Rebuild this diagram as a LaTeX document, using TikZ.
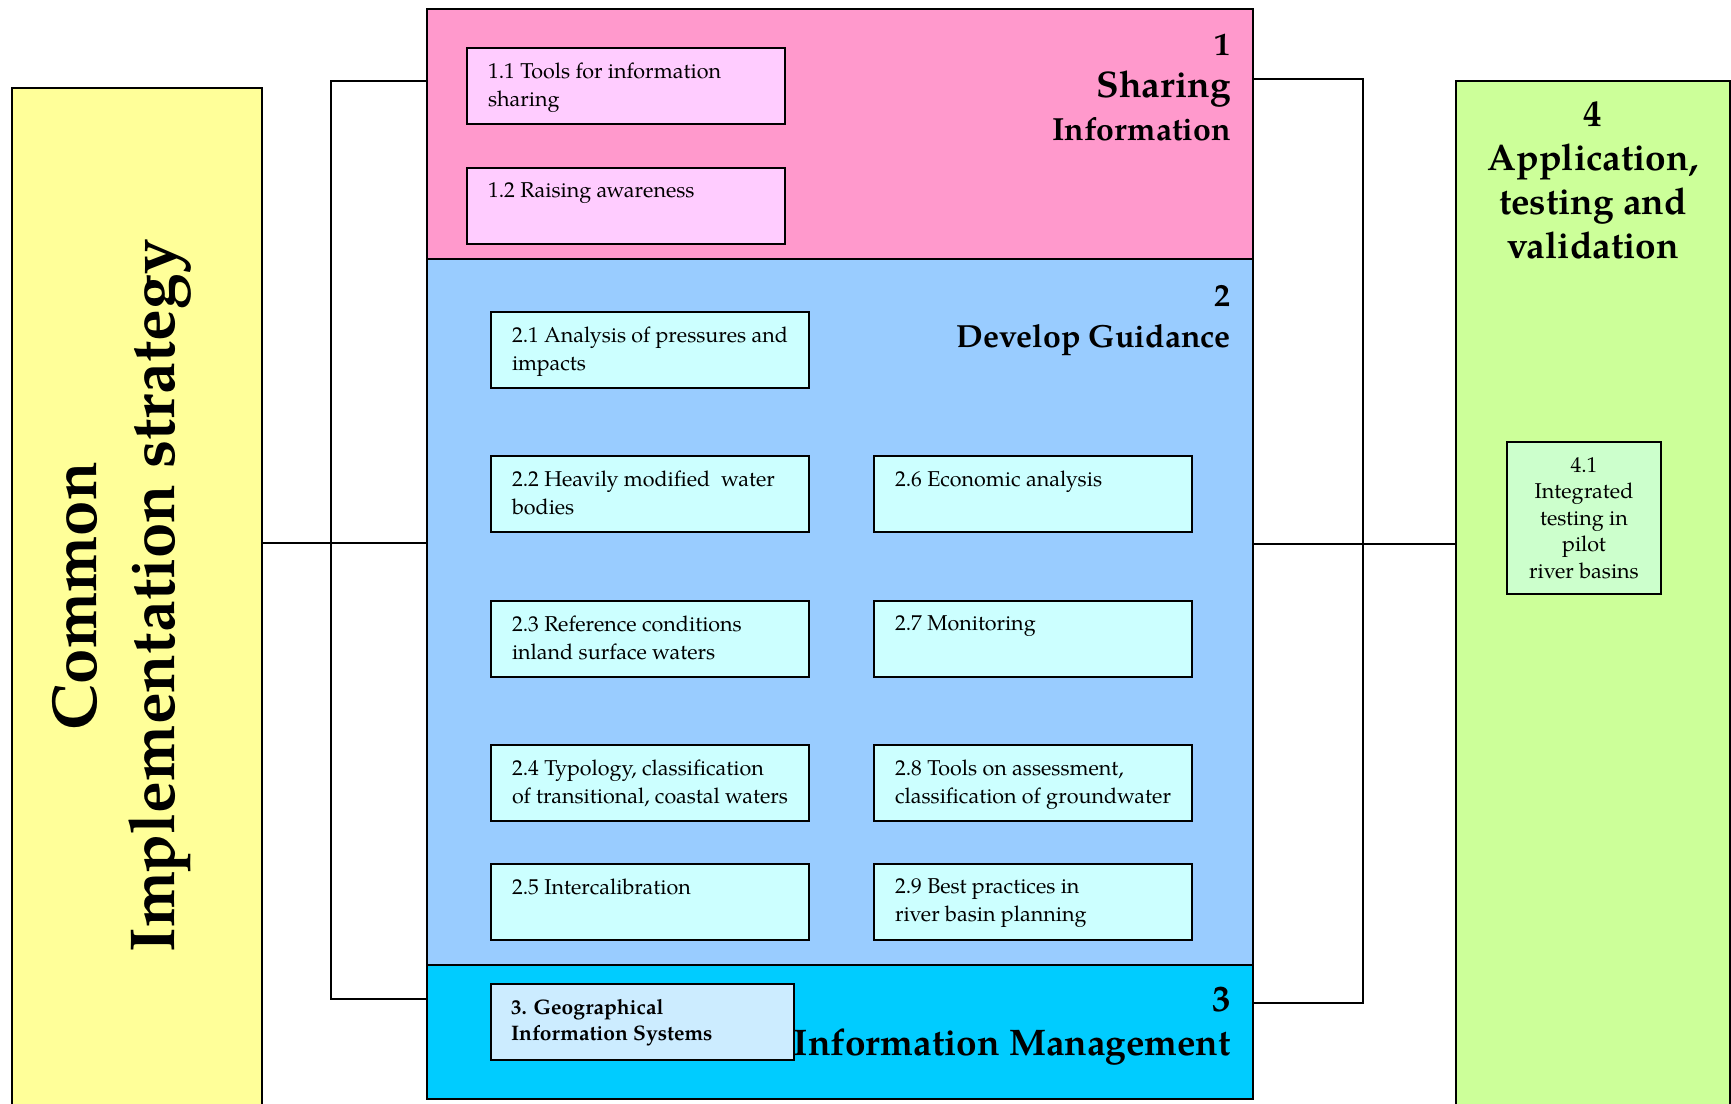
\documentclass[tikz,border=0pt]{standalone}
\usepackage{fontspec}
\setmainfont{TeX Gyre Pagella}
\definecolor{pinkP}{HTML}{FF99CC}
\definecolor{pinkL}{HTML}{FFCCFF}
\definecolor{blueP}{HTML}{99CCFF}
\definecolor{cyanL}{HTML}{CCFFFF}
\definecolor{cyanP}{HTML}{00CCFF}
\definecolor{geoL}{HTML}{CCECFF}
\definecolor{yelP}{HTML}{FFFF99}
\definecolor{grnP}{HTML}{CCFF99}
\definecolor{grnL}{HTML}{CCFFCC}
\newcommand{\itemtext}[2][276pt]{\parbox[c][46pt][t]{#1}{\raggedright #2}}
\begin{document}
\begin{tikzpicture}[x=1pt,y=-1pt,
  panel/.style={draw=black, line width=2pt, anchor=north west, inner sep=0pt, outer sep=0pt},
  itembox/.style={panel, inner xsep=20pt, inner ysep=15pt, minimum width=318pt, minimum height=76pt,
    font=\fontsize{21.5}{27.5}\selectfont},
  head/.style={font=\bfseries\fontsize{32}{42.5}\selectfont, inner sep=0pt, align=right, anchor=base east},
  vt/.style={font=\bfseries\fontsize{63.5}{80}\selectfont, inner sep=0pt, rotate=90, anchor=base},
  conn/.style={draw=black, line width=2pt}]
\useasboundingbox (0,0) rectangle (1731,1103);
\clip (0,0) rectangle (1731,1103);
% side panels
\node[panel, fill=yelP, minimum width=250pt, minimum height=1040pt] (yel) at (12,88) {};
\node[panel, fill=grnP, minimum width=274pt, minimum height=1040pt] (grn) at (1456,81) {};
% central panels
\node[panel, fill=pinkP, minimum width=826pt, minimum height=250pt] (p1) at (427,9) {};
\node[panel, fill=blueP, minimum width=826pt, minimum height=706pt] (p2) at (427,259) {};
\node[panel, fill=cyanP, minimum width=826pt, minimum height=134pt] (p3) at (427,965) {};
% headings (anchor = baseline of last line)
\node[head] (h1) at (1231,140) {1\\{\fontsize{37}{42.5}\selectfont Sharing}\\Information};
\node[head, font=\bfseries\fontsize{32}{41}\selectfont] (h2) at (1231,347) {2\\Develop Guidance};
\node[head, font=\bfseries\fontsize{37}{44}\selectfont] (h3) at (1231,1055) {3\\Information Management};
\node[head, align=center, anchor=base, font=\bfseries\fontsize{37}{44}\selectfont] (h4) at (1593,258) {4\\Application,\\testing and\\validation};
% vertical title
\node[vt] (c1) at (96,596) {Common};
\node[vt] (c2) at (174,596) {Implementation strategy};
% group 1 items
\node[itembox, fill=pinkL] (b11) at (467,48) {\itemtext{1.1 Tools for information\\sharing}};
\node[itembox, fill=pinkL] (b12) at (467,168) {\itemtext{1.2 Raising awareness}};
% group 2 items
\node[itembox, fill=cyanL] (b21) at (491,312) {\itemtext{2.1 Analysis of pressures and\\impacts}};
\node[itembox, fill=cyanL] (b22) at (491,456) {\itemtext{2.2 Heavily modified\ \ water\\bodies}};
\node[itembox, fill=cyanL] (b23) at (491,601) {\itemtext{2.3 Reference conditions\\inland surface waters}};
\node[itembox, fill=cyanL] (b24) at (491,745) {\itemtext{2.4 Typology, classification\\of transitional, coastal waters}};
\node[itembox, fill=cyanL] (b25) at (491,864) {\itemtext{2.5 Intercalibration}};
\node[itembox, fill=cyanL] (b26) at (874,456) {\itemtext{2.6 Economic analysis}};
\node[itembox, fill=cyanL] (b27) at (874,601) {\itemtext{2.7 Monitoring}};
\node[itembox, fill=cyanL] (b28) at (874,745) {\itemtext{2.8 Tools on assessment,\\classification of groundwater}};
\node[itembox, fill=cyanL] (b29) at (874,864) {\itemtext{2.9 Best practices in\\river basin planning}};
% group 3 item
\node[itembox, fill=geoL, minimum width=303pt, font=\bfseries\fontsize{21}{26}\selectfont] (b3) at (491,984) {\itemtext[263pt]{3. Geographical\\Information Systems}};
% group 4 item
\node[panel, fill=grnL, minimum width=154pt, minimum height=152pt, align=center,
  font=\fontsize{21.5}{26.5}\selectfont] (b41) at (1507,442) {4.1\\Integrated\\testing in\\pilot\\river basins};
% connectors
\coordinate (lmid) at (0,543);
\coordinate (rmid) at (0,544);
\coordinate (lbt) at (331,81);
\coordinate (lbb) at (331,999);
\coordinate (rbt) at (1363,79);
\coordinate (rbb) at (1363,1003);
\draw[conn] (yel.east |- lmid) -- (p2.west |- lmid);
\draw[conn] (p2.east |- rmid) -- (grn.west |- rmid);
\draw[conn] (p1.west |- lbt) -- (lbt) -- (lbb) -- (p3.west |- lbb);
\draw[conn] (p1.east |- rbt) -- (rbt) -- (rbb) -- (p3.east |- rbb);
\end{tikzpicture}
\end{document}
